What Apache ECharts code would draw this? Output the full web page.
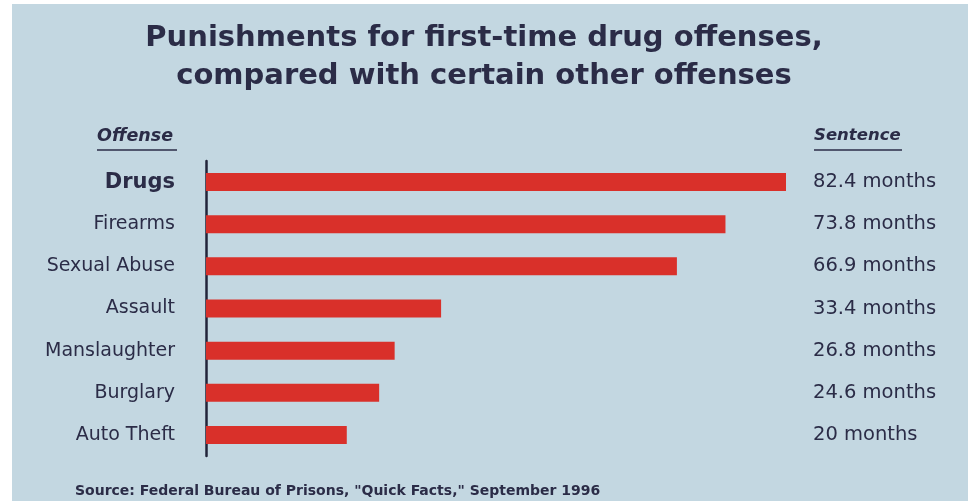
<!DOCTYPE html>
<html>
<head>
<meta charset="utf-8">
<script src="https://cdn.jsdelivr.net/npm/echarts@6/dist/echarts.min.js"></script>
<style>
  html, body { margin: 0; padding: 0; background: #ffffff; }
  #main { width: 968px; height: 501px; }
</style>
</head>
<body>
<div id="main"></div>
<script>
// offenses, top to bottom
const offenses = ['Drugs', 'Firearms', 'Sexual Abuse', 'Assault', 'Manslaughter', 'Burglary', 'Auto Theft'];
const months = [82.4, 73.8, 66.9, 33.4, 26.8, 24.6, 20];
const sentenceLabels = ['82.4 months', '73.8 months', '66.9 months', '33.4 months', '26.8 months', '24.6 months', '20 months'];

const ink = '#2b2c47';
const font = 'DejaVu Sans';

var chartDom = document.getElementById('main');
var myChart = echarts.init(chartDom);
var option;

option = {
    backgroundColor: '#ffffff',
    animation: false,
    title: {
        text: 'Punishments for first-time drug offenses,\ncompared with certain other offenses',
        left: 'center',
        top: 14,
        textStyle: {
            fontFamily: font,
            fontSize: 29,
            fontWeight: 'bold',
            color: ink,
            lineHeight: 38
        }
    },
    graphic: [
        // panel background with a thin white margin on the left/top
        { type: 'rect', z: -10, shape: { x: 12, y: 4, width: 956, height: 497 }, style: { fill: '#c3d7e1' } },
        { type: 'text', left: 97, top: 127, style: { text: 'Offense', font: 'italic bold 17.5px "DejaVu Sans"', fill: ink } },
        { type: 'line', shape: { x1: 97, y1: 150, x2: 177, y2: 150 }, style: { stroke: ink, lineWidth: 1.5 } },
        { type: 'text', left: 814, top: 127, style: { text: 'Sentence', font: 'italic bold 16.5px "DejaVu Sans"', fill: ink } },
        { type: 'line', shape: { x1: 814, y1: 150, x2: 902, y2: 150 }, style: { stroke: ink, lineWidth: 1.5 } },
        { type: 'text', left: 75, top: 484, style: { text: 'Source: Federal Bureau of Prisons, "Quick Facts," September 1996', font: 'bold 14px "DejaVu Sans"', fill: ink } }
    ],
    grid: {
        left: 206,
        top: 161,
        width: 580,
        height: 295
    },
    xAxis: {
        type: 'value',
        min: 0,
        max: 82.4,
        show: false
    },
    yAxis: [
        {
            type: 'category',
            inverse: true,
            data: offenses,
            axisTick: { show: false },
            axisLine: { show: true, lineStyle: { color: '#22243a', width: 2.5 } },
            axisLabel: {
                margin: 31,
                fontFamily: font,
                fontSize: 19,
                color: ink,
                formatter: function (v) { return v === 'Drugs' ? '{b|' + v + '}' : v; },
                rich: { b: { fontFamily: font, fontSize: 21, fontWeight: 'bold', color: ink } }
            }
        },
        {
            type: 'category',
            inverse: true,
            position: 'right',
            data: sentenceLabels,
            axisTick: { show: false },
            axisLine: { show: false },
            axisLabel: {
                margin: 27,
                fontFamily: font,
                fontSize: 19.5,
                color: ink
            }
        }
    ],
    series: [
        {
            name: 'Sentence',
            type: 'bar',
            barWidth: 18,
            itemStyle: { color: '#d9302a' },
            data: months
        }
    ]
};

option && myChart.setOption(option);
</script>
</body>
</html>
